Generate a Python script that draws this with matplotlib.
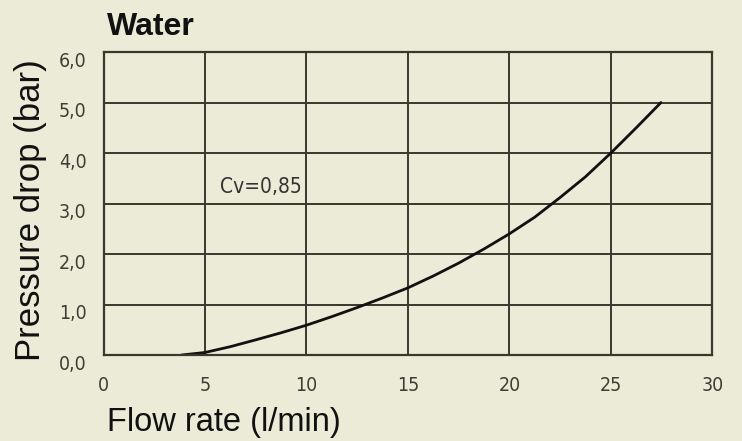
import matplotlib

matplotlib.use("Agg")
import matplotlib.pyplot as plt
from matplotlib.transforms import ScaledTranslation

# pressure drop curve for water
flow = [3.85, 5.0, 6.25, 7.5, 8.75, 10.0, 11.25, 12.5, 13.75, 15.0,
        16.25, 17.5, 18.75, 20.0, 21.25, 22.5, 23.75, 25.0, 26.25, 27.47]
pressure = [0.0, 0.05, 0.165, 0.3, 0.44, 0.59, 0.76, 0.94, 1.13, 1.33,
            1.565, 1.82, 2.1, 2.4, 2.73, 3.12, 3.53, 4.0, 4.5, 5.0]
x_ticks = [0, 5, 10, 15, 20, 25, 30]
y_ticks = [0, 1, 2, 3, 4, 5, 6]
y_tick_labels = ["0,0", "1,0", "2,0", "3,0", "4,0", "5,0", "6,0"]

BG = "#ecebd8"
GRID = "#38382c"
TICK = "#3e3e36"

fig = plt.figure(figsize=(7.42, 4.41), dpi=100, facecolor=BG)
axis = fig.add_axes([0.1395, 0.195, 0.8205, 0.687], facecolor=BG)

axis.plot(flow, pressure, color="#111111", linewidth=2.0,
          solid_capstyle="round", solid_joinstyle="round")
axis.set_xlim(0, 30)
axis.set_ylim(0, 6)
axis.set_xticks(x_ticks)
axis.set_yticks(y_ticks)
axis.set_yticklabels(y_tick_labels)
axis.grid(True, color=GRID, linewidth=1.4)
axis.set_axisbelow(True)
for spine in axis.spines.values():
    spine.set_color(GRID)
    spine.set_linewidth(1.6)
axis.tick_params(length=0, labelsize=14, colors=TICK)
axis.tick_params(axis="x", pad=15)
axis.tick_params(axis="y", pad=12)
for label in axis.get_xticklabels() + axis.get_yticklabels():
    label.set_fontstretch("condensed")
# labels on the y axis sit a little below their grid lines
shift = ScaledTranslation(0, -7 / 100, fig.dpi_scale_trans)
for tick in axis.yaxis.get_major_ticks():
    tick.label1.set_transform(tick.label1.get_transform() + shift)

axis.text(5.72, 3.21, "Cv=0,85", fontsize=15, color="#333333",
          fontstretch="condensed", va="baseline")

fig.text(107 / 742, 1 - 35 / 441, "Water", fontsize=23, fontweight="bold",
         family="Liberation Sans", color="#111111", va="baseline")
fig.text(107 / 742, 1 - 431 / 441, "Flow rate (l/min)", fontsize=23.5,
         family="Liberation Sans", color="#111111", va="baseline")
fig.text(31 / 742, 1 - 210 / 441, "Pressure drop (bar)", fontsize=25,
         family="Liberation Sans", color="#111111", rotation=90,
         ha="center", va="center")

fig.savefig("out.png", dpi=100, facecolor=BG)
